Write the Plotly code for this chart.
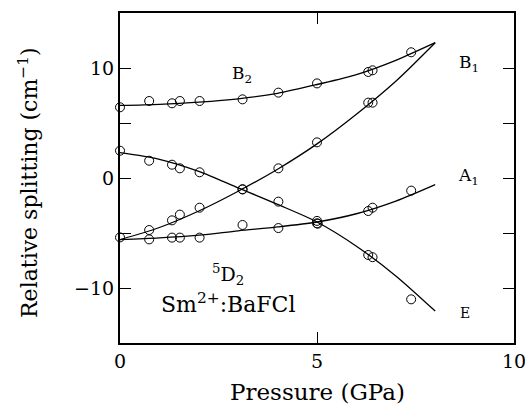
import plotly.graph_objects as go

# Measured points (pressure GPa, splitting cm^-1)
p_b2 = [0.0, 0.74, 1.32, 1.52, 2.02, 3.11, 4.02, 5.0, 6.3, 6.41, 7.39]
v_b2 = [6.43, 7.0, 6.79, 7.0, 7.0, 7.15, 7.76, 8.6, 9.64, 9.79, 11.43]

p_e = [0.0, 0.74, 1.32, 1.52, 2.02, 3.11, 4.02, 5.0, 5.02, 6.3, 6.41, 7.39]
v_e = [2.48, 1.57, 1.21, 0.88, 0.52, -1.03, -2.15, -3.9, -4.15, -7.0, -7.2, -11.03]

p_b1 = [0.74, 1.32, 1.52, 2.02, 3.11, 4.02, 5.0, 6.3, 6.41]
v_b1 = [-4.73, -3.85, -3.33, -2.7, -1.03, 0.88, 3.24, 6.85, 6.85]

p_a1 = [0.0, 0.74, 1.32, 1.52, 2.02, 3.11, 4.02, 5.0, 6.3, 6.41, 7.39]
v_a1 = [-5.4, -5.58, -5.42, -5.42, -5.42, -4.27, -4.55, -4.12, -3.0, -2.7, -1.15]

# Fitted curves
p_fit = [0, 1, 2, 3, 4, 5, 6, 7, 8]
f_b2 = [6.6, 6.7, 6.9, 7.2, 7.7, 8.5, 9.4, 10.7, 12.3]
f_b1 = [-5.6, -4.5, -3.0, -1.2, 0.8, 3.1, 5.8, 8.8, 12.3]
f_e = [2.3, 1.7, 0.6, -0.9, -2.4, -4.0, -6.2, -8.9, -12.1]
f_a1 = [-5.6, -5.45, -5.2, -4.8, -4.45, -4.0, -3.25, -2.1, -0.6]

x_title = "Pressure (GPa)"
y_title = "Relative splitting (cm<sup>\u22121</sup>)"

FONT = "'DejaVu Serif', 'Liberation Serif', serif"

fig = go.Figure()
for f in [f_b2, f_b1, f_e, f_a1]:
    fig.add_trace(go.Scatter(x=p_fit, y=f, mode="lines",
                             line=dict(color="black", width=1.3, shape="spline", smoothing=0.8),
                             showlegend=False, hoverinfo="skip"))
for px, vy in [(p_b2, v_b2), (p_e, v_e), (p_b1, v_b1), (p_a1, v_a1)]:
    fig.add_trace(go.Scatter(x=px, y=vy, mode="markers",
                             marker=dict(symbol="circle-open", size=9, color="black",
                                         line=dict(width=1, color="black")),
                             showlegend=False, cliponaxis=False))

labels = [
    (3.1, 9.4, "B<sub>2</sub>", 17),
    (8.85, 10.4, "B<sub>1</sub>", 17),
    (8.85, 0.1, "A<sub>1</sub>", 17),
    (8.75, -12.3, "E", 14),
    (2.75, -8.8, "<sup>5</sup>D<sub>2</sub>", 19),
    (2.75, -11.4, "Sm<sup>2+</sup>:BaFCl", 22),
]
for x, y, t, s in labels:
    fig.add_annotation(x=x, y=y, text=t, showarrow=False,
                       font=dict(family=FONT, size=s, color="black"))

# axis titles placed as paper annotations
fig.add_annotation(x=0.5, y=-0.148, xref="paper", yref="paper", text=x_title,
                   showarrow=False, xanchor="center", yanchor="middle",
                   font=dict(family=FONT, size=23, color="black"))
fig.add_annotation(x=-0.2335, y=0.485, xref="paper", yref="paper", text=y_title,
                   showarrow=False, xanchor="center", yanchor="middle", textangle=-90,
                   font=dict(family=FONT, size=22, color="black"))

axis_common = dict(showgrid=False, zeroline=False, showline=True, linecolor="black",
                   linewidth=2, mirror="ticks", ticks="inside", ticklen=11,
                   tickwidth=1.3, tickcolor="black", automargin=False,
                   ticklabeloverflow="allow",
                   tickfont=dict(family=FONT, size=19, color="black"))

fig.update_xaxes(range=[0, 10], tickvals=[0, 5, 10], ticktext=["0", "5", "10"],
                 **axis_common)
fig.update_yaxes(range=[-15, 15], tickvals=[-10, -5, 0, 5, 10],
                 ticktext=["\u221210", "", "0", "", "10"],
                 **axis_common)

fig.update_layout(width=525, height=405, margin=dict(l=120, r=11, t=13, b=62),
                  plot_bgcolor="white", paper_bgcolor="white",
                  font=dict(family=FONT, color="black"))

fig.write_html("out.html")
